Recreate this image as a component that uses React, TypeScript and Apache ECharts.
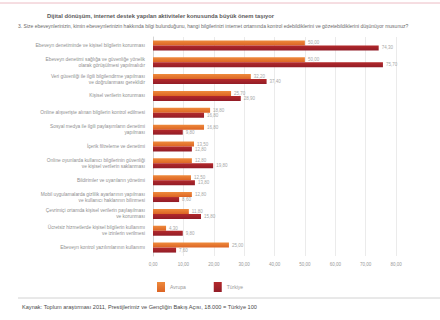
import React, { useEffect, useRef } from "react";
import * as echarts from "echarts";

const categories = [
  "Ebeveyn denetiminde ve kişisel bilgilerin korunması",
  "Ebeveyn denetimi sağlığa ve güvenliğe yönelik\nolarak görüşülmesi yapılmalıdır",
  "Veri güvenliği ile ilgili bilgilendirme yapılması\nve doğrulanması gereklidir",
  "Kişisel verilerin korunması",
  "Online alışverişte alınan bilgilerin kontrol edilmesi",
  "Sosyal medya ile ilgili paylaşımların denetimi\nyapılması",
  "İçerik filtreleme ve denetimi",
  "Online oyunlarda kullanıcı bilgilerinin güvenliği\nve kişisel verilerin saklanması",
  "Bildirimler ve uyarıların yönetimi",
  "Mobil uygulamalarda gizlilik ayarlarının yapılması\nve kullanıcı haklarının bilinmesi",
  "Çevrimiçi ortamda kişisel verilerin paylaşılması\nve korunması",
  "Ücretsiz hizmetlerde kişisel bilgilerin kullanımı\nve izinlerin verilmesi",
  "Ebeveyn kontrol yazılımlarının kullanımı",
];

const seriesNames = ["Avrupa", "Türkiye"];
const valuesA = [50.0, 50.0, 32.2, 25.7, 18.8, 16.8, 13.5, 12.8, 12.5, 12.8, 11.8, 4.3, 25.0];
const valuesB = [74.3, 75.7, 37.4, 28.9, 16.8, 9.8, 12.8, 19.8, 13.8, 8.6, 15.8, 9.8, 7.6];

const titleText =
  "Dijital dönüşüm, internet destek yapılan aktiviteler konusunda büyük önem taşıyor";
const questionText =
  "3. Size ebeveynlerinizin, kimin ebeveynlerinizin hakkında bilgi bulunduğunu, hangi bilgilerinizi internet ortamında kontrol edebildiklerini ve gözetebildiklerini düşünüyor musunuz?";
const sourceText =
  "Kaynak: Toplum araştırması 2011, Prestijlerimiz ve Gençliğin Bakış Açısı, 18.000 = Türkiye 100";

const fmt = (v: number) => v.toFixed(2).replace(".", ",");

export default function App() {
  const ref = useRef<HTMLDivElement>(null);
  useEffect(() => {
    if (!ref.current) return;
    const chart = echarts.init(ref.current, undefined, { renderer: "svg" });
    const labelStyle = {
      show: true,
      position: "right" as const,
      fontSize: 4.5,
      color: "#a8a8a8",
      distance: 3,
      fontFamily: "Liberation Sans",
      formatter: (p: any) => fmt(p.value),
    };
    chart.setOption({
      animation: false,
      backgroundColor: "#ffffff",
      textStyle: { fontFamily: "Liberation Sans" },
      grid: { left: 153, right: 44, top: 37, bottom: 64 },
      legend: {
        data: seriesNames,
        left: 152,
        top: 277,
        itemWidth: 8,
        itemHeight: 10,
        itemGap: 28,
        textStyle: { fontSize: 5, color: "#999" },
        icon: "rect",
      },
      xAxis: {
        type: "value",
        min: 0,
        max: 80,
        interval: 10,
        axisLine: { show: false },
        axisTick: { show: false },
        axisLabel: {
          fontSize: 4.5,
          color: "#999",
          margin: 6,
          formatter: (v: number) => fmt(v),
        },
        splitLine: { show: true, lineStyle: { color: "#e6e6e6", width: 0.8 } },
      },
      yAxis: {
        type: "category",
        data: categories,
        inverse: true,
        axisLine: { show: true, lineStyle: { color: "#d4d4d4" } },
        axisTick: { show: false },
        axisLabel: {
          fontSize: 4.8,
          color: "#8f8f8f",
          lineHeight: 6,
          margin: 8,
        },
      },
      series: [
        {
          name: seriesNames[0],
          type: "bar",
          data: valuesA,
          barWidth: 5,
          barGap: "0%",
          itemStyle: {
            color: new echarts.graphic.LinearGradient(0, 0, 0, 1, [
              { offset: 0, color: "#ee8a3c" },
              { offset: 1, color: "#dc6424" },
            ]),
          },
          label: labelStyle,
        },
        {
          name: seriesNames[1],
          type: "bar",
          data: valuesB,
          barWidth: 5,
          barGap: "0%",
          itemStyle: {
            color: new echarts.graphic.LinearGradient(0, 0, 0, 1, [
              { offset: 0, color: "#b3292b" },
              { offset: 1, color: "#921c27" },
            ]),
          },
          label: labelStyle,
        },
      ],
      graphic: [
        {
          type: "line",
          shape: { x1: 0, y1: 3, x2: 440, y2: 3 },
          style: { stroke: "#ecbcc4", lineWidth: 1 },
        },
        {
          type: "text",
          left: 47,
          top: 13,
          style: { text: titleText, fontSize: 5.8, fill: "#5a5a5a", fontWeight: "bold" },
        },
        {
          type: "text",
          left: 18,
          top: 23,
          style: { text: questionText, fontSize: 5, fill: "#6a6a6a" },
        },
        {
          type: "line",
          shape: { x1: 18, y1: 298, x2: 440, y2: 298 },
          style: { stroke: "#d2d2d2", lineWidth: 1 },
        },
        {
          type: "text",
          left: 22,
          top: 304,
          style: { text: sourceText, fontSize: 5.6, fill: "#4a4a4a" },
        },
      ],
    });
    return () => chart.dispose();
  }, []);
  return (
    <div
      ref={ref}
      style={{ position: "fixed", left: 0, top: 0, width: 440, height: 320, background: "#fff" }}
    />
  );
}
